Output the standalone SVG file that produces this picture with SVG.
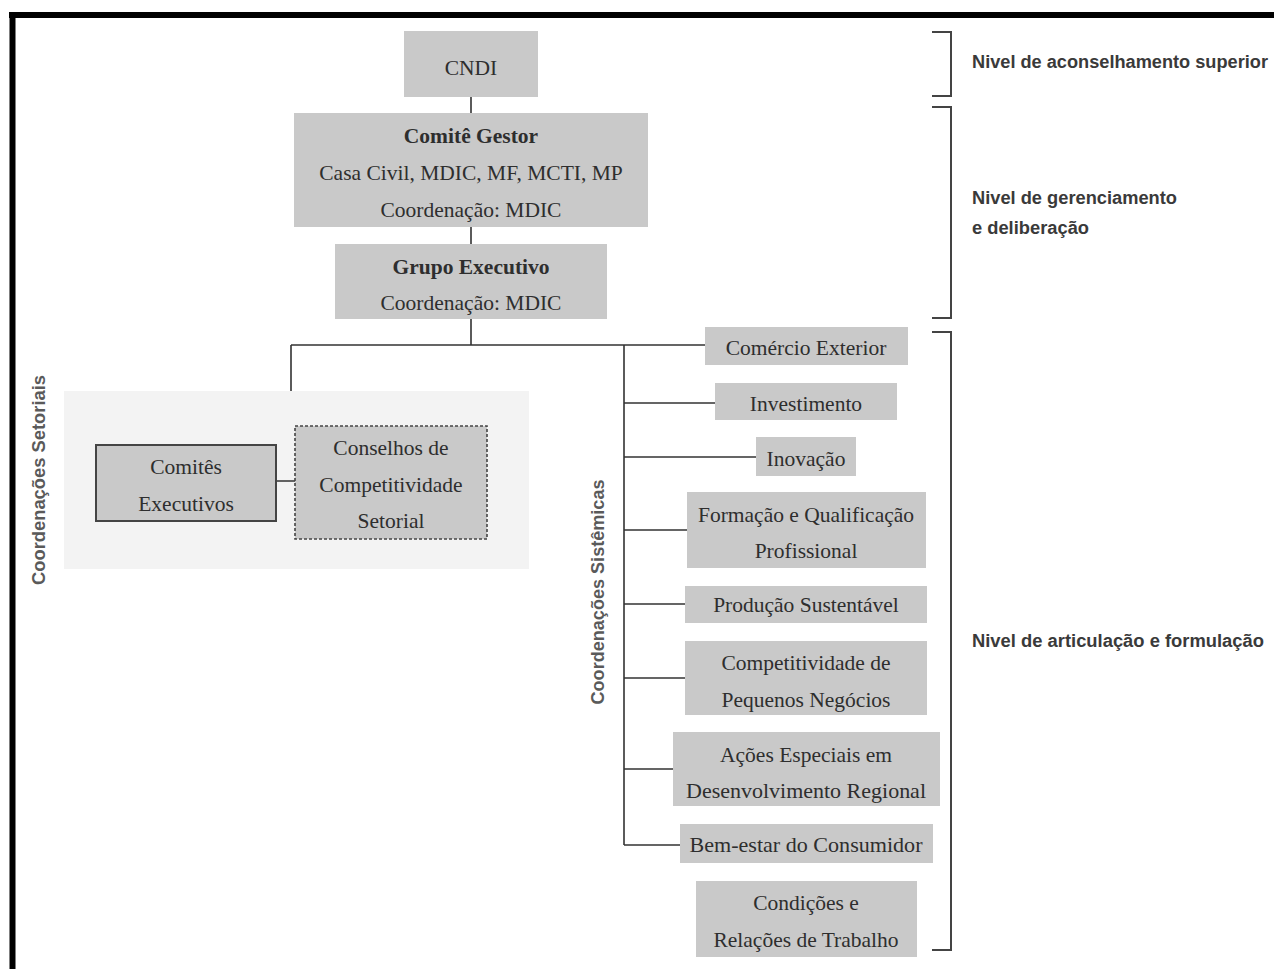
<svg xmlns="http://www.w3.org/2000/svg" width="1274" height="969" viewBox="0 0 1274 969">
<style>
.box{fill:#c9c9c9;}
.t{font-family:"Liberation Serif",serif;font-size:21.5px;fill:#2e2e2e;text-anchor:middle;}
.b{font-weight:bold;}
.ln{stroke:#333;stroke-width:1.6;fill:none;}
.br{stroke:#444;stroke-width:2;fill:none;}
.lv{font-family:"Liberation Sans",sans-serif;font-weight:bold;font-size:18px;fill:#3a3a3a;}
.vt{font-family:"Liberation Sans",sans-serif;font-weight:bold;font-size:18px;fill:#5a5a5a;text-anchor:middle;}
</style>
<rect width="1274" height="969" fill="#fff"/>
<g id="frame">
<line x1="9" y1="15" x2="1274" y2="15" stroke="#000" stroke-width="6"/>
<line x1="12.5" y1="12" x2="12.5" y2="969" stroke="#000" stroke-width="6"/>
</g>
<g id="sectoral-area">
<rect x="64" y="391" width="465" height="178" fill="#f3f3f3"/>
</g>
<g id="connectors">
<path class="ln" d="M471 97V113M471 227V244M471 319V345M291 345H705M291 345V391M624 345V845M624 403H715M624 457H756M624 530H687M624 604H685M624 678H685M624 769H673M624 845H680M276 481H295"/>
</g>
<g id="n-cndi"><rect class="box" x="404" y="31" width="134" height="66"/><text class="t" x="471" y="75">CNDI</text></g>
<g id="n-comite"><rect class="box" x="294" y="113" width="354" height="114"/>
<text class="t b" x="471" y="143">Comitê Gestor</text>
<text class="t" x="471" y="180">Casa Civil, MDIC, MF, MCTI, MP</text>
<text class="t" x="471" y="217">Coordenação: MDIC</text></g>
<g id="n-grupo"><rect class="box" x="335" y="244" width="272" height="75"/>
<text class="t b" x="471" y="274">Grupo Executivo</text>
<text class="t" x="471" y="310">Coordenação: MDIC</text></g>
<g id="n-comites"><rect class="box" x="96" y="445" width="180" height="76" stroke="#444" stroke-width="2"/>
<text class="t" x="186" y="474">Comitês</text>
<text class="t" x="186" y="511">Executivos</text></g>
<g id="n-conselhos"><rect class="box" x="295" y="426" width="192" height="113" stroke="#444" stroke-width="1.6" stroke-dasharray="3 2"/>
<text class="t" x="391" y="455">Conselhos de</text>
<text class="t" x="391" y="492">Competitividade</text>
<text class="t" x="391" y="528">Setorial</text></g>
<g id="n-comercio"><rect class="box" x="705" y="327" width="203" height="38"/><text class="t" x="806" y="355">Comércio Exterior</text></g>
<g id="n-invest"><rect class="box" x="715" y="383" width="182" height="37"/><text class="t" x="806" y="411">Investimento</text></g>
<g id="n-inov"><rect class="box" x="756" y="437" width="100" height="39"/><text class="t" x="806" y="466">Inovação</text></g>
<g id="n-form"><rect class="box" x="687" y="492" width="239" height="76"/><text class="t" x="806" y="522">Formação e Qualificação</text><text class="t" x="806" y="558">Profissional</text></g>
<g id="n-prod"><rect class="box" x="685" y="586" width="242" height="37"/><text class="t" x="806" y="612">Produção Sustentável</text></g>
<g id="n-compet"><rect class="box" x="685" y="641" width="242" height="74"/><text class="t" x="806" y="670">Competitividade de</text><text class="t" x="806" y="707">Pequenos Negócios</text></g>
<g id="n-acoes"><rect class="box" x="673" y="732" width="267" height="74"/><text class="t" x="806" y="762">Ações Especiais em</text><text class="t" x="806" y="798" textLength="240" lengthAdjust="spacingAndGlyphs">Desenvolvimento Regional</text></g>
<g id="n-bem"><rect class="box" x="680" y="824" width="253" height="39"/><text class="t" x="806" y="852" textLength="233" lengthAdjust="spacingAndGlyphs">Bem-estar do Consumidor</text></g>
<g id="n-cond"><rect class="box" x="696" y="881" width="221" height="76"/><text class="t" x="806" y="910">Condições e</text><text class="t" x="806" y="947">Relações de Trabalho</text></g>
<g id="v-labels">
<text class="vt" transform="translate(45 480) rotate(-90)" textLength="210" lengthAdjust="spacingAndGlyphs">Coordenações Setoriais</text>
<text class="vt" transform="translate(604 592) rotate(-90)" textLength="225" lengthAdjust="spacingAndGlyphs">Coordenações Sistêmicas</text>
</g>
<g id="levels">
<path class="br" d="M932 32H951V96H932M932 107H951V318H932M932 332H951V950H932"/>
<text class="lv" x="972" y="68" textLength="296" lengthAdjust="spacingAndGlyphs">Nivel de aconselhamento superior</text>
<text class="lv" x="972" y="204" textLength="205" lengthAdjust="spacingAndGlyphs">Nivel de gerenciamento</text>
<text class="lv" x="972" y="234" textLength="117" lengthAdjust="spacingAndGlyphs">e deliberação</text>
<text class="lv" x="972" y="647" textLength="292" lengthAdjust="spacingAndGlyphs">Nivel de articulação e formulação</text>
</g>
</svg>
